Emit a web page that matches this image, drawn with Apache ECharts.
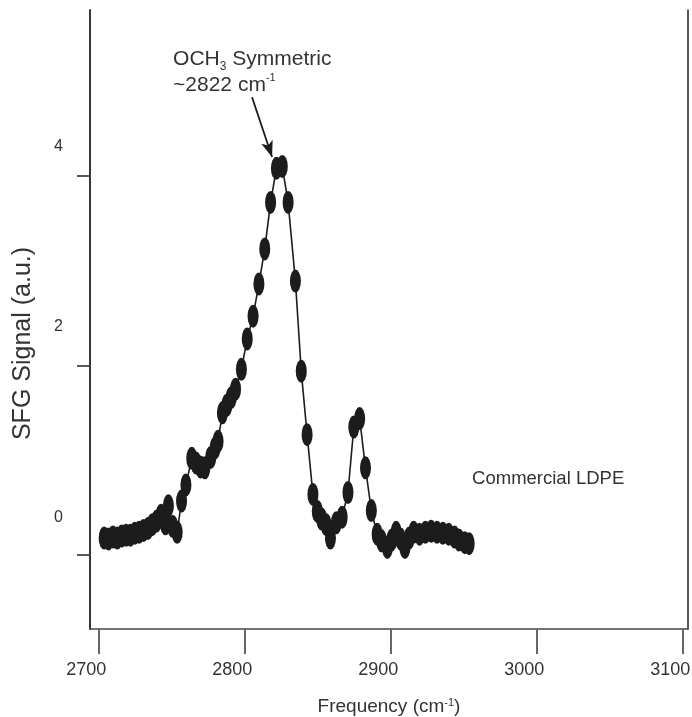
<!DOCTYPE html>
<html>
<head>
<meta charset="utf-8">
<script src="https://cdn.jsdelivr.net/npm/echarts@6/dist/echarts.min.js"></script>
<style>html,body{margin:0;padding:0;background:#fff}#c{width:692px;height:717px}</style>
</head>
<body>
<div id="c"></div>
<script>
// Frequency (cm-1) of each measured point
var freqs = [2704,2707,2710,2713,2716,2719,2722,2725,2728,2731,2734,2737,2740,2743,2746,2748,2751,2754,2757,2760,
  2764,2767,2770,2773,2777,2780,2782,2785,2788,2791,2794,2798,2802,2806,2810,2814,2818,2822,2826,2830,
  2835,2839,2843,2847,2850,2853,2856,2859,2863,2867,2871,2875,2879,2883,2887,2891,2894,2898,2901,2904,
  2907,2910,2913,2916,2920,2924,2928,2932,2936,2940,2944,2947,2951,2954];
// SFG signal (a.u.)
var signal = [0.18,0.17,0.19,0.18,0.20,0.21,0.21,0.23,0.24,0.26,0.28,0.32,0.36,0.42,0.33,0.52,0.30,0.24,0.57,0.74,
  1.02,0.97,0.93,0.92,1.03,1.13,1.20,1.50,1.58,1.66,1.75,1.96,2.28,2.52,2.86,3.23,3.72,4.08,4.10,3.72,
  2.89,1.94,1.27,0.64,0.46,0.38,0.32,0.18,0.34,0.40,0.66,1.35,1.44,0.92,0.47,0.22,0.15,0.08,0.16,0.24,
  0.17,0.08,0.18,0.24,0.22,0.24,0.25,0.24,0.23,0.22,0.19,0.16,0.13,0.12];
var xTicks = [2700, 2800, 2900, 3000, 3100];
var yTicks = [0, 2, 4];
var xTitle = 'Frequency (cm{sup|-1})';
var yTitle = 'SFG Signal (a.u.)';
var peakLabel = ['OCH{sub|3} Symmetric', '~2822 cm{sup|-1}'];
var sampleLabel = 'Commercial LDPE';
var arrowFrom = [2805.3, 4.83], arrowTo = [2819, 4.2];
var peakLabelAt = [2751.2, 5.09];
var sampleLabelAt = [2956, 0.80];

var pts = freqs.map(function (f, i) { return [f, signal[i]]; });
var FONT = 'Liberation Sans';
var TXT = '#333';

var chart = echarts.init(document.getElementById('c'), null, {renderer: 'canvas'});
chart.setOption({
  animation: false,
  backgroundColor: '#fff',
  grid: {left: 90, right: 4, top: 10, bottom: 88, containLabel: false, outerBoundsMode: 'none'},
  xAxis: {
    type: 'value', min: 2694.3, max: 3103.9,
    name: xTitle, nameLocation: 'middle', nameGap: 68,
    nameTextStyle: {fontFamily: FONT, fontSize: 19, color: TXT,
      rich: {sup: {fontFamily: FONT, fontSize: 11, color: TXT, verticalAlign: 'top', padding: [0, 0, 8, 0]}}},
    axisLine: {show: true, onZero: false, lineStyle: {color: '#444', width: 1.5}},
    axisTick: {show: true, inside: false, length: 25, customValues: xTicks, lineStyle: {color: '#666', width: 2}},
    axisLabel: {customValues: xTicks, margin: 32, fontFamily: FONT, fontSize: 18, color: TXT, padding: [0, 24, 0, 0],
      formatter: function (v) { return String(v); }},
    splitLine: {show: false}
  },
  yAxis: [{
    type: 'value', min: -0.78, max: 5.75, position: 'left',
    name: yTitle, nameLocation: 'middle', nameGap: 54, nameRotate: 90,
    nameTextStyle: {fontFamily: FONT, fontSize: 25, color: TXT, padding: [0, 48, 0, 0]},
    axisLine: {show: true, onZero: false, lineStyle: {color: '#222', width: 1.8}},
    axisTick: {show: true, inside: false, length: 13, customValues: yTicks, lineStyle: {color: '#444', width: 1.8}},
    axisLabel: {customValues: yTicks, margin: 27, fontFamily: FONT, fontSize: 16, color: TXT,
      verticalAlign: 'bottom',
      formatter: function (v) { return '{l' + v + '|' + v + '}'; },
      rich: {
        l0: {fontFamily: FONT, fontSize: 16, color: TXT, padding: [0, 0, 29, 0]},
        l2: {fontFamily: FONT, fontSize: 16, color: TXT, padding: [0, 0, 31, 0]},
        l4: {fontFamily: FONT, fontSize: 16, color: TXT, padding: [0, 0, 21, 0]}
      }},
    splitLine: {show: false}
  }, {
    type: 'value', min: -0.78, max: 5.75, position: 'right',
    axisLine: {show: true, onZero: false, lineStyle: {color: '#222', width: 1.5}},
    axisTick: {show: false}, axisLabel: {show: false}, splitLine: {show: false}
  }],
  series: [{
    type: 'line',
    yAxisIndex: 0,
    data: pts,
    symbol: 'circle',
    symbolSize: [11, 23],
    showAllSymbol: true,
    itemStyle: {color: '#1c1c1c'},
    lineStyle: {color: '#1c1c1c', width: 1.6},
    markLine: {
      silent: true,
      symbol: ['none', 'arrow'],
      symbolSize: [9, 16],
      label: {show: false},
      lineStyle: {color: '#1c1c1c', width: 1.8, type: 'solid'},
      data: [[{coord: arrowFrom}, {coord: arrowTo}]]
    },
    markPoint: {
      silent: true,
      symbol: 'circle', symbolSize: 0,
      data: [
        {coord: peakLabelAt, label: {show: true, position: 'right', distance: 0,
          formatter: peakLabel.join('\n'), fontFamily: FONT, fontSize: 21, color: TXT, lineHeight: 26, align: 'left',
          rich: {
            sub: {fontFamily: FONT, fontSize: 12, color: TXT, verticalAlign: 'bottom', padding: [10, 0, 0, 0]},
            sup: {fontFamily: FONT, fontSize: 11, color: TXT, verticalAlign: 'top', padding: [0, 0, 8, 0]}
          }}},
        {coord: sampleLabelAt, label: {show: true, position: 'right', distance: 0,
          formatter: sampleLabel, fontFamily: FONT, fontSize: 18.5, color: TXT}}
      ]
    }
  }]
});
</script>
</body>
</html>
